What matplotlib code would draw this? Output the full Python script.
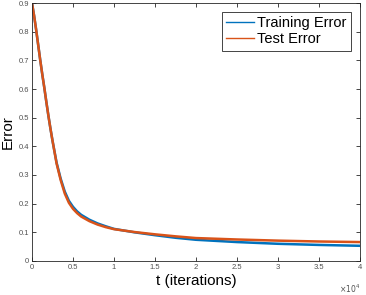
import matplotlib
matplotlib.use("Agg")
import matplotlib.pyplot as plt

# values (t in units of 1e4 iterations)
t = [0, 0.025, 0.05, 0.075, 0.1, 0.125, 0.15, 0.175, 0.2, 0.225, 0.25, 0.3,
     0.35, 0.4, 0.45, 0.5, 0.55, 0.6, 0.7, 0.8, 0.9, 1.0, 1.25, 1.5, 1.75,
     2.0, 2.5, 3.0, 3.5, 4.0]
train_err = [0.9, 0.857, 0.808, 0.755, 0.702, 0.652, 0.605, 0.555, 0.507, 0.462,
             0.42, 0.343, 0.287, 0.242, 0.21, 0.189, 0.173, 0.161, 0.144, 0.131,
             0.121, 0.112, 0.1, 0.09, 0.081, 0.074, 0.066, 0.06, 0.056, 0.053]
test_err = [0.9, 0.857, 0.808, 0.755, 0.702, 0.652, 0.605, 0.555, 0.507, 0.462,
            0.42, 0.34, 0.282, 0.235, 0.203, 0.182, 0.167, 0.155, 0.139, 0.127,
            0.118, 0.111, 0.101, 0.093, 0.086, 0.08, 0.075, 0.071, 0.068, 0.066]
x_ticks = [0, 0.5, 1, 1.5, 2, 2.5, 3, 3.5, 4]
y_ticks = [0, 0.1, 0.2, 0.3, 0.4, 0.5, 0.6, 0.7, 0.8, 0.9]

plt.rcParams['font.family'] = ['Liberation Sans', 'DejaVu Sans']
fig = plt.figure(figsize=(3.66, 2.95), dpi=100)
ax = fig.add_axes([0.0874, 0.1153, 0.8962, 0.8745])

blue = (0, 0.447, 0.741)
orange = (0.85, 0.325, 0.098)
ax.plot(t, train_err, color=blue, lw=1.8, label='Training Error')
ax.plot(t, test_err, color=orange, lw=1.8, label='Test Error')

ax.set_xlim(0, 4)
ax.set_ylim(0, 0.9)
ax.set_xticks(x_ticks)
ax.set_xticklabels(['0', '0.5', '1', '1.5', '2', '2.5', '3', '3.5', '4'])
ax.set_yticks(y_ticks)
ax.set_yticklabels(['0', '0.1', '0.2', '0.3', '0.4', '0.5', '0.6', '0.7', '0.8', '0.9'])
ax.tick_params(direction='in', length=3, width=0.6, labelsize=5.5,
               colors='#262626', labelcolor='#505050', top=True, right=True, pad=2)
for s in ax.spines.values():
    s.set_color('#262626')
    s.set_linewidth(0.6)

ax.set_xlabel('t (iterations)', fontsize=11, labelpad=2)
ax.set_ylabel('Error', fontsize=11, labelpad=3)
ax.text(1.0, -0.085, r'$\times10^{4}$', transform=ax.transAxes, ha='right',
        va='top', fontsize=5.5, color='#505050')

leg = ax.legend(loc='upper right', fontsize=10.5, fancybox=False, framealpha=1,
                handlelength=1.9, handletextpad=0.25, borderpad=0.3,
                labelspacing=0.15, borderaxespad=0.6)
for line in leg.get_lines():
    line.set_linewidth(1.0)
leg.get_frame().set_edgecolor('#262626')
leg.get_frame().set_linewidth(0.6)

fig.savefig('out.png', dpi=100)
